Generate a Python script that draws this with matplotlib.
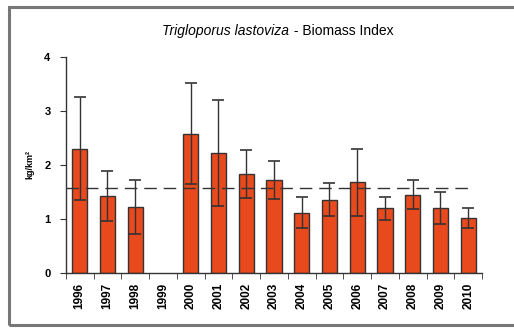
import numpy as np
import matplotlib.pyplot as plt
from matplotlib.patches import Rectangle

plt.rcParams['font.family'] = ['Liberation Sans', 'DejaVu Sans']

# Biomass index data (kg/km2)
years = ['1996', '1997', '1998', '1999', '2000', '2001', '2002', '2003',
         '2004', '2005', '2006', '2007', '2008', '2009', '2010']
biomass = [2.30, 1.43, 1.22, np.nan, 2.58, 2.22, 1.83, 1.72,
           1.12, 1.36, 1.68, 1.20, 1.45, 1.20, 1.02]
err = [0.95, 0.46, 0.50, np.nan, 0.94, 0.98, 0.45, 0.35,
       0.28, 0.30, 0.62, 0.21, 0.27, 0.30, 0.19]
mean_level = 1.58

fig = plt.figure(figsize=(5.14, 3.29), dpi=100)
ax = fig.add_axes([0.128, 0.170, 0.810, 0.657])

x = np.arange(len(years))
ax.bar(x, biomass, width=0.55, color='#E8491D', edgecolor='#333333', linewidth=1.0, zorder=2)
ax.errorbar(x, biomass, yerr=err, fmt='none', ecolor='#333333', elinewidth=1.0,
            capsize=4, capthick=1.2, zorder=4)
ax.plot([-0.5, 14.1], [mean_level, mean_level], color='#333333', lw=1.0,
        dashes=(9, 5), zorder=3)

ax.set_xlim(-0.5, 14.5)
ax.set_ylim(0, 4)
ax.set_yticks([0, 1, 2, 3, 4])
ax.set_yticklabels(['0', '1', '2', '3', '4'], fontsize=8, fontweight='bold')
ax.set_xticks(x)
ax.set_xticklabels(years, rotation=90, fontsize=8.5, fontweight='bold')
ax.set_xticks(np.arange(-0.5, 15, 1), minor=True)
ax.tick_params(axis='x', which='major', length=0, pad=7)
ax.tick_params(axis='x', which='minor', length=4, direction='out', color='#333333')
ax.tick_params(axis='y', length=4, direction='out', color='#333333', pad=7)
ax.spines['top'].set_visible(False)
ax.spines['right'].set_visible(False)
for s in ['left', 'bottom']:
    ax.spines[s].set_color('#333333')
    ax.spines[s].set_linewidth(1.0)

ax.set_ylabel('kg/km²', fontsize=6.5, fontweight='bold', labelpad=7)

# title: italic species name + plain part
fig.text(0.562, 0.905, 'Trigloporus lastoviza', fontsize=10, style='italic',
         ha='right', va='center')
fig.text(0.565, 0.905, ' - Biomass Index', fontsize=10, ha='left', va='center')

# outer frame
fig.patches.append(Rectangle((0.017, 0.012), 1.2, 0.968, transform=fig.transFigure,
                             fill=False, edgecolor='#777777', linewidth=2.2))

fig.savefig('out.png', dpi=100)
